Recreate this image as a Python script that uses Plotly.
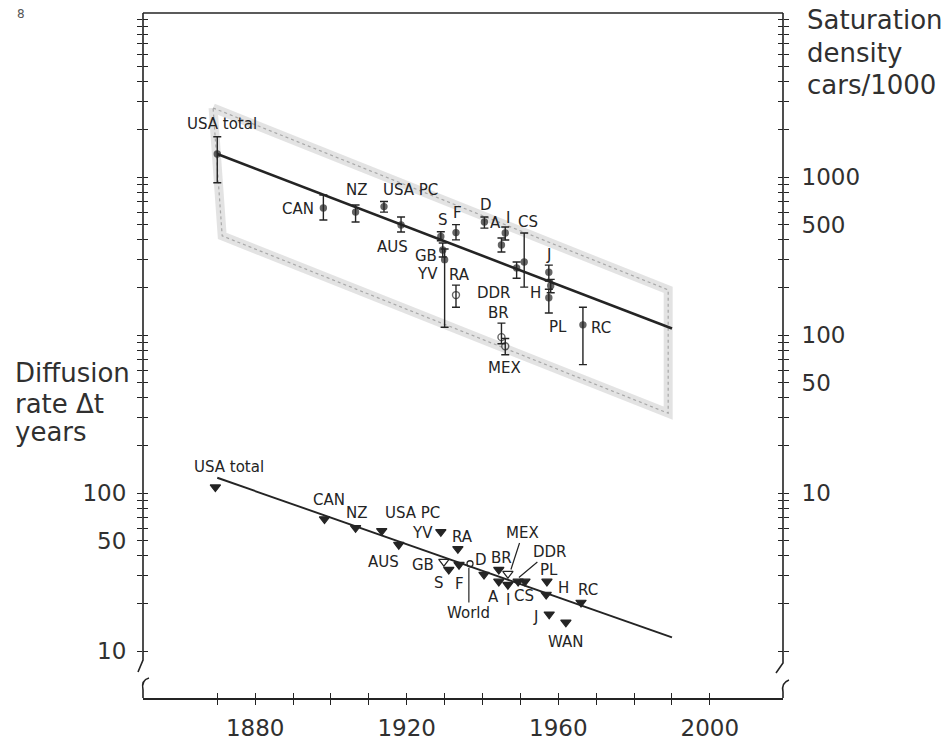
import numpy as np
import plotly.graph_objects as go

# ---------------- data: upper panel, saturation density (cars/1000), right axis
sat_names = ["USA total", "CAN", "NZ", "USA PC", "AUS", "S", "GB", "YV", "F", "RA",
             "D", "A", "I", "CS", "DDR", "J", "H", "PL", "RC", "BR", "MEX"]
sat_year = [1870, 1898, 1906.5, 1914, 1918.5, 1929, 1929.5, 1930, 1933, 1933,
            1940.5, 1945, 1946, 1951, 1949, 1957.5, 1958, 1957.5, 1966.5, 1945, 1946]
sat_value = [1400, 637, 600, 650, 497, 420, 345, 300, 445, 179,
             519, 371, 442, 290, 266, 250, 205, 172, 116, 97, 85]
sat_high = [1800, 770, 665, 700, 558, 450, 382, 350, 500, 207,
            558, 411, 483, 442, 290, 277, 225, 195, 150, 119, 95]
sat_low = [920, 535, 519, 600, 449, 395, 312, 112, 400, 150,
           475, 335, 399, 201, 229, 220, 185, 138, 65, 88, 75]

sat_trend_year = [1870, 1990]
sat_trend_value = [1400, 110]

band_year = [1868.9, 1989, 1989, 1871.3, 1868.9]
band_value = [2735, 193, 32, 424, 2735]

# ---------------- data: lower panel, diffusion rate Δt (years), left axis
dt_names = ["USA total", "CAN", "NZ", "USA PC", "AUS", "YV", "RA", "GB", "S", "F",
            "D", "BR", "A", "I", "MEX", "CS", "DDR", "PL", "H", "RC", "J", "WAN"]
dt_year = [1869.5, 1898.3, 1906.5, 1913.4, 1917.9, 1929, 1933.5, 1929.8, 1931.1, 1933.8,
           1940.4, 1944.3, 1944.3, 1946.7, 1946.7, 1949.4, 1951.2, 1957, 1956.8, 1966, 1957.6, 1962]
dt_value = [109, 68.5, 60.3, 57.7, 47.1, 56.8, 44.4, 36.8, 32.8, 35.2,
            30.5, 32.8, 27.6, 26.3, 30.9, 27.6, 27.6, 27.6, 22.8, 20.3, 17.1, 15.2]
world_year = [1936.7]
world_value = [35.7]

dt_trend_year = [1870, 1990]
dt_trend_value = [125, 12.2]

# ---------------- axis ticks
x_ticks = list(range(1870, 2001, 10))
x_labelled = [1880, 1920, 1960, 2000]
left_ticks = [m * 10 ** k for k in range(1, 5) for m in range(1, 10)] + [100000]
left_labelled = [10, 50, 100]
right_ticks = [m * 10 ** k for k in range(0, 4) for m in range(1, 10)] + [10000]
right_labelled = [10, 50, 100, 500, 1000]

# ---------------- label placement (year, value)
sat_label_at = {
    "USA total": (1871.3, 2160), "CAN": (1891.4, 627), "NZ": (1907, 828),
    "USA PC": (1921, 828), "AUS": (1916.3, 361), "S": (1929.5, 535),
    "F": (1933.5, 591), "GB": (1925, 318), "YV": (1925.6, 243),
    "RA": (1933.8, 240), "D": (1940.9, 665), "A": (1943.5, 512),
    "I": (1946.7, 551), "CS": (1952, 519), "DDR": (1943, 184),
    "H": (1954.1, 184), "J": (1957.3, 321), "PL": (1960, 112),
    "RC": (1971.3, 111), "BR": (1944.3, 138), "MEX": (1945.7, 62),
}
dt_label_at = {
    "USA total": (1873.1, 146), "CAN": (1899.4, 90.4), "NZ": (1907, 74.8),
    "USA PC": (1921.6, 74.8), "AUS": (1914, 36.8), "YV": (1924.2, 56),
    "RA": (1934.8, 52.9), "GB": (1924.2, 35.2), "S": (1928.5, 27.1),
    "F": (1933.8, 26.4), "D": (1939.6, 37.9), "BR": (1944.9, 39),
    "A": (1943, 21.9), "I": (1946.7, 21.2), "CS": (1951, 22.2),
    "PL": (1957.6, 32.8), "H": (1961.5, 25.2), "RC": (1967.9, 24.5),
    "J": (1954.1, 16.4), "WAN": (1962, 11.4),
}
# labels with leader lines: (target year, target value, text offset px)
dt_leaders = {
    "World": (1936.4, 33.5, 0, 45),
    "MEX": (1947.5, 32.8, 12, -37),
    "DDR": (1949.6, 29.2, 31, -26),
}

ink = "#242424"
x_range = [1850.4, 2019.3]
left_range = [0.703, 5.038]
right_range = [-0.297, 4.038]

fig = go.Figure()

# stippled band
fig.add_trace(go.Scatter(x=band_year, y=band_value, xaxis="x", yaxis="y2", mode="lines",
                         line=dict(color="rgba(175,175,175,0.35)", width=9),
                         hoverinfo="skip", showlegend=False))
fig.add_trace(go.Scatter(x=band_year, y=band_value, xaxis="x", yaxis="y2", mode="lines",
                         line=dict(color="#a8a8a8", width=1.2, dash="dot"),
                         hoverinfo="skip", showlegend=False))
# upper trend line
fig.add_trace(go.Scatter(x=sat_trend_year, y=sat_trend_value, xaxis="x", yaxis="y2",
                         mode="lines", line=dict(color=ink, width=2.6),
                         hoverinfo="skip", showlegend=False))
# upper points with ranges
open_sat = {"RA", "BR", "MEX"}
sat_symbols = ["circle-open" if n in open_sat else "circle" for n in sat_names]
sat_sizes = [7 if n in open_sat else 6 for n in sat_names]
fig.add_trace(go.Scatter(
    x=sat_year, y=sat_value, xaxis="x", yaxis="y2", mode="markers",
    marker=dict(symbol=sat_symbols, size=sat_sizes, color=ink, line=dict(color=ink, width=1.4)),
    error_y=dict(type="data", symmetric=False,
                 array=[h - v for h, v in zip(sat_high, sat_value)],
                 arrayminus=[v - l for v, l in zip(sat_value, sat_low)],
                 color=ink, thickness=1.4, width=4),
    text=sat_names, hoverinfo="text", showlegend=False))

# lower trend line
fig.add_trace(go.Scatter(x=dt_trend_year, y=dt_trend_value, xaxis="x", yaxis="y",
                         mode="lines", line=dict(color=ink, width=1.9),
                         hoverinfo="skip", showlegend=False))
open_dt = {"GB", "MEX"}
dt_symbols = ["triangle-down-open" if n in open_dt else "triangle-down" for n in dt_names]
fig.add_trace(go.Scatter(
    x=dt_year, y=dt_value, xaxis="x", yaxis="y", mode="markers",
    marker=dict(symbol=dt_symbols, size=9, color=ink, line=dict(color=ink, width=1.2)),
    text=dt_names, hoverinfo="text", showlegend=False))
fig.add_trace(go.Scatter(
    x=world_year, y=world_value, xaxis="x", yaxis="y", mode="markers",
    marker=dict(symbol="circle-open", size=6, color=ink, line=dict(color=ink, width=1.3)),
    hoverinfo="skip", showlegend=False))

# dummy traces so the tick-mirroring axes render
fig.add_trace(go.Scatter(x=[None], y=[None], xaxis="x2", yaxis="y3", showlegend=False, hoverinfo="skip"))
fig.add_trace(go.Scatter(x=[None], y=[None], xaxis="x", yaxis="y4", showlegend=False, hoverinfo="skip"))

label_font = dict(size=15, color=ink)
annotations = []
for name, (yr, val) in sat_label_at.items():
    annotations.append(dict(x=yr, y=np.log10(val), xref="x", yref="y2", text=name,
                            showarrow=False, font=label_font))
for name, (yr, val) in dt_label_at.items():
    annotations.append(dict(x=yr, y=np.log10(val), xref="x", yref="y", text=name,
                            showarrow=False, font=label_font))
for name, (yr, val, ax, ay) in dt_leaders.items():
    annotations.append(dict(x=yr, y=np.log10(val), xref="x", yref="y", text=name,
                            showarrow=True, arrowhead=0, arrowwidth=1.2, arrowcolor=ink,
                            ax=ax, ay=ay, standoff=0, font=label_font))

# axis titles
for txt, yy in [("Diffusion", 0.4745), ("rate Δt", 0.4292), ("years", 0.3884)]:
    annotations.append(dict(x=-0.2031, y=yy, xref="paper", yref="paper", text=txt,
                            xanchor="left", yanchor="middle", showarrow=False,
                            font=dict(size=26, color="#303030")))
for txt, yy in [("Saturation", 0.9898), ("density", 0.9416), ("cars/1000", 0.8949)]:
    annotations.append(dict(x=1.0344, y=yy, xref="paper", yref="paper", text=txt,
                            xanchor="left", yanchor="middle", showarrow=False,
                            font=dict(size=26, color="#303030")))
annotations.append(dict(x=-0.2, y=1.0117, xref="paper", yref="paper", text="8",
                        showarrow=False, font=dict(size=12, color="#555")))

# frame with axis breaks (paper coordinates)
def px(xp):
    return (xp - 143) / 640.0

def py(yp):
    return (698 - yp) / 685.0

line_style = dict(color=ink, width=1.6)
shapes = [
    dict(type="line", xref="paper", yref="paper", x0=0, x1=1, y0=1, y1=1, line=line_style),
    dict(type="path", xref="paper", yref="paper",
         path=f"M {px(143)} {py(13)} L {px(143)} {py(660)} L {px(138)} {py(672)}", line=line_style),
    dict(type="path", xref="paper", yref="paper",
         path=f"M {px(149)} {py(678)} Q {px(141)} {py(680)} {px(143)} {py(690)} L {px(143)} {py(698)}",
         line=line_style),
    dict(type="path", xref="paper", yref="paper",
         path=f"M {px(783)} {py(13)} L {px(783)} {py(663)} L {px(776)} {py(673)}", line=line_style),
    dict(type="path", xref="paper", yref="paper",
         path=f"M {px(789)} {py(680)} Q {px(781)} {py(683)} {px(783)} {py(692)} L {px(783)} {py(698)}",
         line=line_style),
]

tick_font = dict(size=23, color="#303030")
common = dict(showgrid=False, zeroline=False, automargin=False, tickcolor=ink, tickwidth=1.4, ticklen=5)

fig.update_layout(
    width=948, height=741,
    margin=dict(l=143, r=165, t=13, b=43),
    paper_bgcolor="white", plot_bgcolor="white",
    showlegend=False,
    font=dict(family="DejaVu Sans", color=ink),
    xaxis=dict(range=x_range, tickvals=x_ticks,
               ticktext=[str(t) if t in x_labelled else "" for t in x_ticks],
               ticks="outside", showline=True, linecolor=ink, linewidth=1.6,
               tickfont=tick_font, ticklabelstandoff=4, **common),
    xaxis2=dict(range=x_range, tickvals=x_ticks, overlaying="x", side="bottom", anchor="y",
                ticks="inside", showticklabels=False, showline=False, **common),
    yaxis=dict(type="log", range=left_range, tickvals=left_ticks,
               ticktext=[str(t) if t in left_labelled else "" for t in left_ticks],
               ticks="outside", showline=False, tickfont=tick_font, ticklabelstandoff=6, **common),
    yaxis3=dict(type="log", range=left_range, tickvals=left_ticks, overlaying="y", side="left",
                ticks="inside", showticklabels=False, showline=False, **common),
    yaxis2=dict(type="log", range=right_range, tickvals=right_ticks,
                ticktext=[str(t) if t in right_labelled else "" for t in right_ticks],
                overlaying="y", side="right", anchor="x",
                ticks="outside", showline=False, tickfont=tick_font, ticklabelstandoff=8, **common),
    yaxis4=dict(type="log", range=right_range, tickvals=right_ticks, overlaying="y", side="right",
                anchor="x", ticks="inside", showticklabels=False, showline=False, **common),
    annotations=annotations,
    shapes=shapes,
)

fig.write_html("out.html", config={"displayModeBar": False},
               post_script="document.body.style.margin='0';document.body.style.overflow='hidden';")
